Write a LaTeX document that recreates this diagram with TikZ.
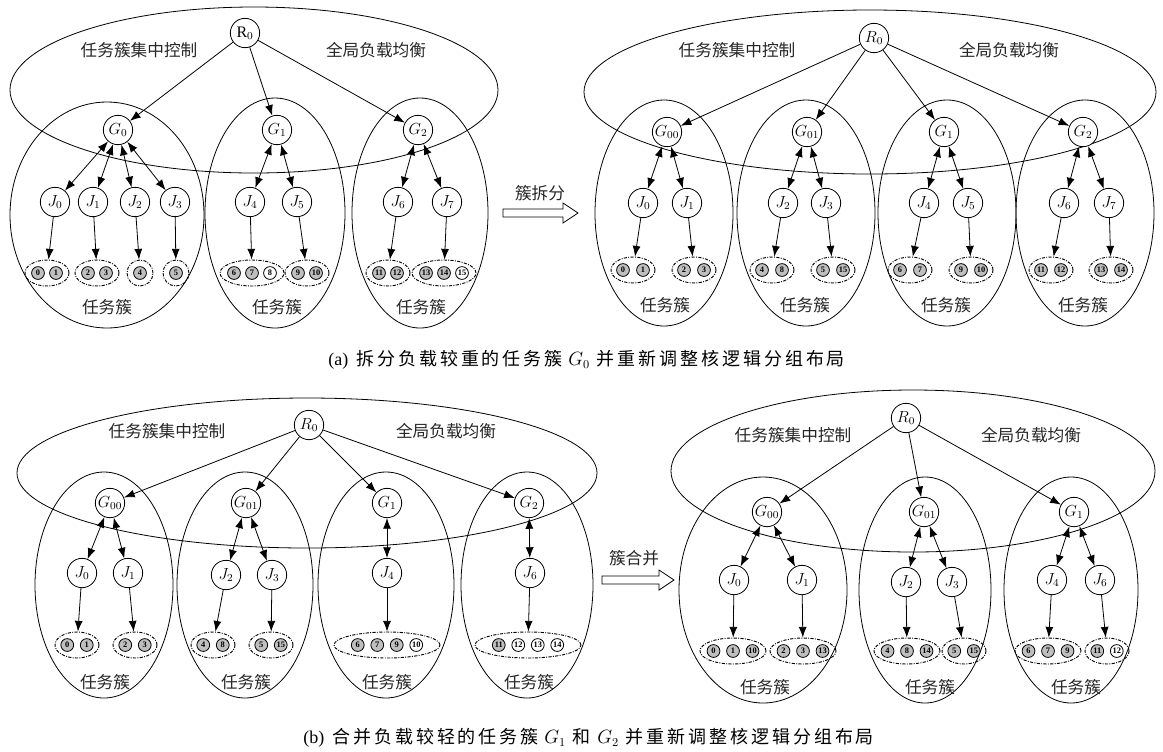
\documentclass[tikz,border=0pt]{standalone}
\usepackage{fontspec}
\setmainfont{Liberation Serif}
\newfontfamily\cjk{Noto Sans CJK SC}
\usetikzlibrary{shapes.geometric,arrows.meta}
\def\spc#1{\ifx#1\relax\else#1\kern2.2pt\expandafter\spc\fi}
\begin{document}
\begin{tikzpicture}[x=0.75pt,y=-0.75pt,line width=0.6pt,
  nd/.style={circle,draw,fill=white,inner sep=0pt,minimum size=22pt,font=\fontsize{12}{12}\selectfont},
  core/.style={circle,draw,fill=black!25,inner sep=0pt,minimum size=9.6pt,font=\fontsize{6.3}{6.3}\selectfont\bfseries},
  wcore/.style={core,fill=white},
  grp/.style 2 args={ellipse,draw,dash pattern=on 2.4pt off 1pt on 0.7pt off 1pt,line width=0.7pt,minimum width=#1*1.5pt,minimum height=#2*1.5pt,inner sep=0pt},
  clu/.style 2 args={ellipse,draw,minimum width=#1*1.5pt,minimum height=#2*1.5pt,inner sep=0pt},
  lbl/.style={font=\cjk\fontsize{12.5}{12.5}\selectfont,text=black!85},
  captext/.style={font=\fontsize{13.5}{14}\selectfont,anchor=west,inner sep=0pt},
  ar/.style={-{Latex[length=8pt,width=6pt]}},
  dar/.style={{Latex[length=8pt,width=6pt]}-{Latex[length=8pt,width=6pt]}},
  hollow/.style={line width=0.6pt,fill=white}
]
\useasboundingbox (0,0) rectangle (1163,751);

% ================= Panel (a) left =================
\node[clu={244}{83}] (aE) at (254,90) {};
\node[clu={97}{113}] (aC0) at (107,215) {};
\node[clu={70}{115}] (aC1) at (275,213) {};
\node[clu={68}{115}] (aC2) at (420,213) {};
\node[lbl] (aL1) at (139,50) {任务簇集中控制};
\node[lbl] (aL2) at (376,50) {全局负载均衡};
\node[nd] (aR) at (245,33) {R$_0$};
\node[nd] (aG0) at (118,130) {$G_0$};
\node[nd] (aG1) at (277,130) {$G_1$};
\node[nd] (aG2) at (418,130) {$G_2$};
\node[nd] (aJ0) at (55,202) {$J_0$};
\node[nd] (aJ1) at (93,202) {$J_1$};
\node[nd] (aJ2) at (135,202) {$J_2$};
\node[nd] (aJ3) at (175,202) {$J_3$};
\node[nd] (aJ4) at (250,202) {$J_4$};
\node[nd] (aJ5) at (297,202) {$J_5$};
\node[nd] (aJ6) at (398,202) {$J_6$};
\node[nd] (aJ7) at (447,202) {$J_7$};
\node[grp={22}{13}] (aq01) at (47,273) {};
\node[grp={22}{13}] (aq23) at (97,273) {};
\node[grp={13}{13}] (aq4) at (140,273) {};
\node[grp={13}{13}] (aq5) at (176,273) {};
\node[grp={32}{13}] (aq678) at (252,273) {};
\node[grp={22}{13}] (aq910) at (307,273) {};
\node[grp={22}{13}] (aq1112) at (388,273) {};
\node[grp={32}{13}] (aq131415) at (444,273) {};
\node[core] (ac0) at (38,273) {0};
\node[core] (ac1) at (56,273) {1};
\node[core] (ac2) at (88,273) {2};
\node[core] (ac3) at (106,273) {3};
\node[core] (ac4) at (140,273) {4};
\node[core] (ac5) at (176,273) {5};
\node[core] (ac6) at (234,273) {6};
\node[core] (ac7) at (252,273) {7};
\node[wcore] (ac8) at (270,273) {8};
\node[core] (ac9) at (298,273) {9};
\node[core] (ac10) at (316,273) {10};
\node[core] (ac11) at (379,273) {11};
\node[core] (ac12) at (397,273) {12};
\node[core] (ac13) at (426,273) {13};
\node[core] (ac14) at (444,273) {14};
\node[wcore] (ac15) at (462,273) {15};
\node[lbl] (aT0) at (107,307) {任务簇};
\node[lbl] (aT1) at (277,307) {任务簇};
\node[lbl] (aT2) at (421,307) {任务簇};
\draw[ar] (aR) -- (aG0);
\draw[ar] (aR) -- (aG1);
\draw[ar] (aR) -- (aG2);
\foreach \j in {0,1,2,3} \draw[dar] (aG0) -- (aJ\j);
\foreach \j in {4,5} \draw[dar] (aG1) -- (aJ\j);
\foreach \j in {6,7} \draw[dar] (aG2) -- (aJ\j);
\draw[ar] (aJ0) -- (aq01);
\draw[ar] (aJ1) -- (aq23);
\draw[ar] (aJ2) -- (aq4);
\draw[ar] (aJ3) -- (aq5);
\draw[ar] (aJ4) -- (aq678);
\draw[ar] (aJ5) -- (aq910);
\draw[ar] (aJ6) -- (aq1112);
\draw[ar] (aJ7) -- (aq131415);

% arrow split
\node[lbl] (splitT) at (540,193) {簇拆分};
\draw[hollow] (503,209) -- (563,209) -- (563,203) -- (578,213) -- (563,223) -- (563,217) -- (503,217) -- cycle;

% ================= Panel (a) right =================
\node[clu={286}{82}] (rE) at (870,92) {};
\node[clu={69}{113}] (rC0) at (664,213) {};
\node[clu={69}{113}] (rC1) at (806,213) {};
\node[clu={69}{113}] (rC2) at (947,213) {};
\node[clu={69}{113}] (rC3) at (1085,213) {};
\node[lbl] (rL1) at (737,50) {任务簇集中控制};
\node[lbl] (rL2) at (1009,50) {全局负载均衡};
\node[nd] (rR) at (874,38) {$R_0$};
\node[nd] (rG00) at (667,132) {$G_{00}$};
\node[nd] (rG01) at (807,132) {$G_{01}$};
\node[nd] (rG1) at (944,132) {$G_1$};
\node[nd] (rG2) at (1083,132) {$G_2$};
\node[nd] (rJ0) at (643,203) {$J_0$};
\node[nd] (rJ1) at (687,203) {$J_1$};
\node[nd] (rJ2) at (783,203) {$J_2$};
\node[nd] (rJ3) at (826,203) {$J_3$};
\node[nd] (rJ4) at (924,203) {$J_4$};
\node[nd] (rJ5) at (968,203) {$J_5$};
\node[nd] (rJ6) at (1064,203) {$J_6$};
\node[nd] (rJ7) at (1109,203) {$J_7$};
\node[grp={22}{13}] (rq01) at (633,270) {};
\node[grp={22}{13}] (rq23) at (694,270) {};
\node[grp={22}{13}] (rq48) at (772,270) {};
\node[grp={22}{13}] (rq515) at (833,270) {};
\node[grp={22}{13}] (rq67) at (910,270) {};
\node[grp={22}{13}] (rq910) at (971,270) {};
\node[grp={22}{13}] (rq1112) at (1051,270) {};
\node[grp={22}{13}] (rq1314) at (1111,270) {};
\node[core] (rc0) at (623,270) {0};
\node[core] (rc1) at (643,270) {1};
\node[core] (rc2) at (684,270) {2};
\node[core] (rc3) at (704,270) {3};
\node[core] (rc4) at (762,270) {4};
\node[core] (rc8) at (782,270) {8};
\node[core] (rc5) at (823,270) {5};
\node[core] (rc15) at (843,270) {15};
\node[core] (rc6) at (900,270) {6};
\node[core] (rc7) at (920,270) {7};
\node[core] (rc9) at (961,270) {9};
\node[core] (rc10) at (981,270) {10};
\node[core] (rc11) at (1041,270) {11};
\node[core] (rc12) at (1061,270) {12};
\node[core] (rc13) at (1101,270) {13};
\node[core] (rc14) at (1121,270) {14};
\node[lbl] (rT0) at (665,305) {任务簇};
\node[lbl] (rT1) at (805,305) {任务簇};
\node[lbl] (rT2) at (946,305) {任务簇};
\node[lbl] (rT3) at (1083,305) {任务簇};
\draw[ar] (rR) -- (rG00);
\draw[ar] (rR) -- (rG01);
\draw[ar] (rR) -- (rG1);
\draw[ar] (rR) -- (rG2);
\draw[dar] (rG00) -- (rJ0);
\draw[dar] (rG00) -- (rJ1);
\draw[dar] (rG01) -- (rJ2);
\draw[dar] (rG01) -- (rJ3);
\draw[dar] (rG1) -- (rJ4);
\draw[dar] (rG1) -- (rJ5);
\draw[dar] (rG2) -- (rJ6);
\draw[dar] (rG2) -- (rJ7);
\draw[ar] (rJ0) -- (rq01);
\draw[ar] (rJ1) -- (rq23);
\draw[ar] (rJ2) -- (rq48);
\draw[ar] (rJ3) -- (rq515);
\draw[ar] (rJ4) -- (rq67);
\draw[ar] (rJ5) -- (rq910);
\draw[ar] (rJ6) -- (rq1112);
\draw[ar] (rJ7) -- (rq1314);

\node[captext] (capA) at (328,360) {(a)\kern6pt{\cjk\spc 拆分负载较重的任务簇\relax}\kern2pt$G_0$\kern5pt{\cjk\spc 并重新调整核逻辑分组布局\relax}};

% ================= Panel (b) left =================
\node[clu={290}{75}] (bE) at (307,473) {};
\node[clu={69}{113}] (bC0) at (104,585) {};
\node[clu={68}{113}] (bC1) at (245,585) {};
\node[clu={68}{113}] (bC2) at (386,585) {};
\node[clu={66}{113}] (bC3) at (527,585) {};
\node[lbl] (bL1) at (167,431) {任务簇集中控制};
\node[lbl] (bL2) at (446,431) {全局负载均衡};
\node[nd] (bR) at (309,425) {$R_0$};
\node[nd] (bG00) at (110,503) {$G_{00}$};
\node[nd] (bG01) at (246,503) {$G_{01}$};
\node[nd] (bG1) at (387,503) {$G_1$};
\node[nd] (bG2) at (529,503) {$G_2$};
\node[nd] (bJ0) at (82,573) {$J_0$};
\node[nd] (bJ1) at (128,573) {$J_1$};
\node[nd] (bJ2) at (226,575) {$J_2$};
\node[nd] (bJ3) at (272,575) {$J_3$};
\node[nd] (bJ4) at (387,573) {$J_4$};
\node[nd] (bJ6) at (530,573) {$J_6$};
\node[grp={22}{13}] (bq01) at (77,645) {};
\node[grp={22}{13}] (bq23) at (135,645) {};
\node[grp={22}{13}] (bq48) at (213,645) {};
\node[grp={22}{13}] (bq515) at (271,645) {};
\node[grp={53}{13}] (bq67910) at (387,645) {};
\node[grp={53}{13}] (bq11121314) at (528,645) {};
\node[core] (bc0) at (67.25,645) {0};
\node[core] (bc1) at (86.75,645) {1};
\node[core] (bc2) at (125.25,645) {2};
\node[core] (bc3) at (144.75,645) {3};
\node[core] (bc4) at (203.25,645) {4};
\node[core] (bc8) at (222.75,645) {8};
\node[core] (bc5) at (261.25,645) {5};
\node[core] (bc15) at (280.75,645) {15};
\node[core] (bc6) at (357.75,645) {6};
\node[core] (bc7) at (377.25,645) {7};
\node[core] (bc9) at (396.75,645) {9};
\node[wcore] (bc10) at (416.25,645) {10};
\node[core] (bc11) at (498.75,645) {11};
\node[wcore] (bc12) at (518.25,645) {12};
\node[wcore] (bc13) at (537.75,645) {13};
\node[wcore] (bc14) at (557.25,645) {14};
\node[lbl] (bT0) at (105,682) {任务簇};
\node[lbl] (bT1) at (246,682) {任务簇};
\node[lbl] (bT2) at (387,682) {任务簇};
\node[lbl] (bT3) at (529,682) {任务簇};
\draw[ar] (bR) -- (bG00);
\draw[ar] (bR) -- (bG01);
\draw[ar] (bR) -- (bG1);
\draw[ar] (bR) -- (bG2);
\draw[dar] (bG00) -- (bJ0);
\draw[dar] (bG00) -- (bJ1);
\draw[dar] (bG01) -- (bJ2);
\draw[dar] (bG01) -- (bJ3);
\draw[dar] (bG1) -- (bJ4);
\draw[dar] (bG2) -- (bJ6);
\draw[ar] (bJ0) -- (bq01);
\draw[ar] (bJ1) -- (bq23);
\draw[ar] (bJ2) -- (bq48);
\draw[ar] (bJ3) -- (bq515);
\draw[ar] (bJ4) -- (bq67910);
\draw[ar] (bJ6) -- (bq11121314);

% arrow merge
\node[lbl] (mergeT) at (634,558) {簇合并};
\draw[hollow] (602,576) -- (659,576) -- (659,570) -- (674,580) -- (659,590) -- (659,584) -- (602,584) -- cycle;

% ================= Panel (b) right =================
\node[clu={242}{81}] (sE) at (913,471) {};
\node[clu={84}{113}] (sC0) at (763,590) {};
\node[clu={66}{113}] (sC1) at (925,590) {};
\node[clu={67}{113}] (sC2) at (1071,590) {};
\node[lbl] (sL1) at (793,435) {任务簇集中控制};
\node[lbl] (sL2) at (1031,435) {全局负载均衡};
\node[nd] (sR) at (906,418) {$R_0$};
\node[nd] (sG00) at (767,512) {$G_{00}$};
\node[nd] (sG01) at (924,512) {$G_{01}$};
\node[nd] (sG1) at (1074,512) {$G_1$};
\node[nd] (sJ0) at (734,580) {$J_0$};
\node[nd] (sJ1) at (802,580) {$J_1$};
\node[nd] (sJ2) at (906,582) {$J_2$};
\node[nd] (sJ3) at (952,582) {$J_3$};
\node[nd] (sJ4) at (1052,580) {$J_4$};
\node[nd] (sJ6) at (1100,580) {$J_6$};
\node[grp={33}{13}] (sq0110) at (733,651) {};
\node[grp={33}{13}] (sq2313) at (803,651) {};
\node[grp={33}{13}] (sq4814) at (907,651) {};
\node[grp={22}{13}] (sq515) at (964,651) {};
\node[grp={33}{13}] (sq679) at (1048,651) {};
\node[grp={22}{13}] (sq1112) at (1107,651) {};
\node[core] (sc0) at (713.5,651) {0};
\node[core] (sc1) at (733,651) {1};
\node[core] (sc10) at (752.5,651) {10};
\node[core] (sc2) at (783.5,651) {2};
\node[core] (sc3) at (803,651) {3};
\node[core] (sc13) at (822.5,651) {13};
\node[core] (sc4) at (887.5,651) {4};
\node[core] (sc8) at (907,651) {8};
\node[core] (sc14) at (926.5,651) {14};
\node[core] (sc5) at (954.25,651) {5};
\node[core] (sc15) at (973.75,651) {15};
\node[core] (sc6) at (1028.5,651) {6};
\node[core] (sc7) at (1048,651) {7};
\node[core] (sc9) at (1067.5,651) {9};
\node[core] (sc11) at (1097.25,651) {11};
\node[wcore] (sc12) at (1116.75,651) {12};
\node[lbl] (sT0) at (765,687) {任务簇};
\node[lbl] (sT1) at (930,687) {任务簇};
\node[lbl] (sT2) at (1076,687) {任务簇};
\draw[ar] (sR) -- (sG00);
\draw[ar] (sR) -- (sG01);
\draw[ar] (sR) -- (sG1);
\draw[dar] (sG00) -- (sJ0);
\draw[dar] (sG00) -- (sJ1);
\draw[dar] (sG01) -- (sJ2);
\draw[dar] (sG01) -- (sJ3);
\draw[dar] (sG1) -- (sJ4);
\draw[dar] (sG1) -- (sJ6);
\draw[ar] (sJ0) -- (sq0110);
\draw[ar] (sJ1) -- (sq2313);
\draw[ar] (sJ2) -- (sq4814);
\draw[ar] (sJ3) -- (sq515);
\draw[ar] (sJ4) -- (sq679);
\draw[ar] (sJ6) -- (sq1112);

\node[captext] (capB) at (303,738) {(b)\kern6pt{\cjk\spc 合并负载较轻的任务簇\relax}\kern2pt$G_1$\kern5pt{\cjk 和}\kern5pt$G_2$\kern5pt{\cjk\spc 并重新调整核逻辑分组布局\relax}};
\end{tikzpicture}
\end{document}
